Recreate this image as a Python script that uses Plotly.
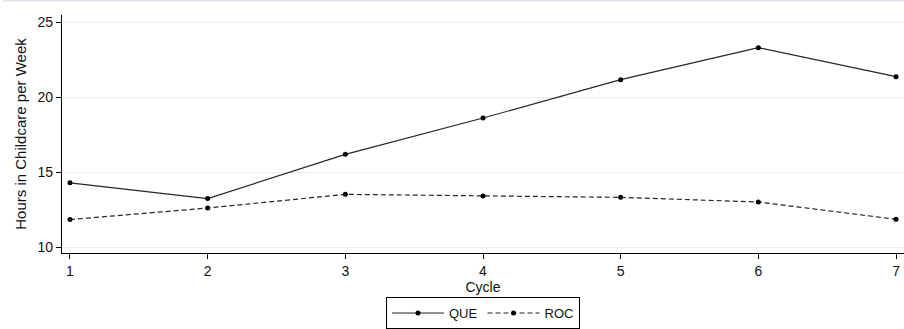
import plotly.graph_objects as go

cycles = [1, 2, 3, 4, 5, 6, 7]
que = [14.3, 13.25, 16.2, 18.62, 21.18, 23.31, 21.38]
roc = [11.85, 12.62, 13.53, 13.42, 13.33, 13.02, 11.87]
y_ticks = [10, 15, 20, 25]

fig = go.Figure()
fig.add_trace(go.Scatter(
    x=cycles, y=que, name="QUE", mode="lines+markers",
    line=dict(color="#262626", width=1.2),
    marker=dict(symbol="circle", size=5, color="#000000"),
))
fig.add_trace(go.Scatter(
    x=cycles, y=roc, name="ROC", mode="lines+markers",
    line=dict(color="#262626", width=1.2, dash="5px,3px"),
    marker=dict(symbol="circle", size=5, color="#000000"),
))

font = "Liberation Sans, Arial, sans-serif"
fig.update_layout(
    width=904, height=329,
    margin=dict(l=62, r=0, t=15, b=76, autoexpand=False),
    paper_bgcolor="white", plot_bgcolor="white",
    font=dict(family=font, size=14, color="#111111"),
    showlegend=True,
    legend=dict(
        orientation="h", x=0.5, xanchor="center", y=-0.185, yanchor="top",
        bordercolor="#000000", borderwidth=1, font=dict(size=13),
        itemwidth=52, tracegroupgap=0,
    ),
    xaxis=dict(
        range=[0.942, 7.058], tickvals=cycles, ticks="outside", ticklen=5,
        tickcolor="#000000", showline=True, linecolor="#000000", linewidth=1.3,
        showgrid=False, zeroline=False, ticklabelstandoff=0,
        title=dict(text="Cycle", standoff=0, font=dict(size=14)),
    ),
    yaxis=dict(
        range=[9.62, 25.49], tickvals=y_ticks, ticks="outside", ticklen=5,
        tickcolor="#000000", showline=True, linecolor="#000000", linewidth=1.3,
        showgrid=True, gridcolor="#e9eff1", gridwidth=1, zeroline=False,
        title=dict(text="Hours in Childcare per Week", standoff=7, font=dict(size=15)),
    ),
    shapes=[dict(type="line", xref="paper", yref="paper", x0=-0.07, x1=1.0,
                 y0=1 + 14.5 / 238, y1=1 + 14.5 / 238,
                 line=dict(color="#dfe6ee", width=2))],
)

fig.write_html("out.html")
